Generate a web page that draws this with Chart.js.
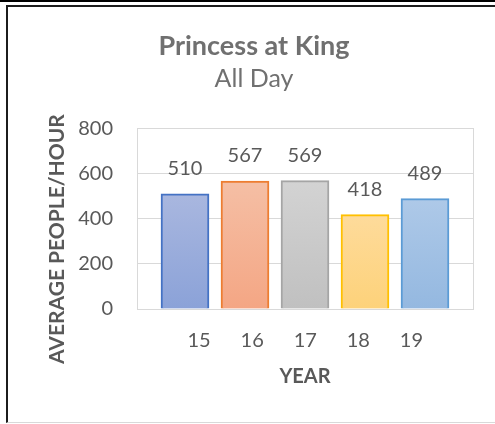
<!DOCTYPE html>
<html>
<head>
<meta charset="utf-8">
<script src="https://cdn.jsdelivr.net/npm/chart.js@4.4.1/dist/chart.umd.min.js"></script>
<style>
  html, body { margin: 0; padding: 0; background: #fff; }
  body { width: 495px; height: 424px; position: relative; overflow: hidden; }
  #topline { position: absolute; left: 0; top: 0; width: 495px; height: 2px; background: #000; }
  #frame { position: absolute; left: 6px; top: 5px; width: 489px; height: 418px; box-sizing: border-box;
           border-top: 2px solid #1c1c1c; border-left: 2px solid #1c1c1c; border-bottom: 1px solid #d9d9d9; }
  #chart { position: absolute; left: 0; top: 0; }
</style>
</head>
<body>
<div id="topline"></div>
<div id="frame"></div>
<canvas id="chart" width="495" height="424"></canvas>
<script>
// data
const years = [15, 16, 17, 18, 19];
const people = [510, 567, 569, 418, 489];
const yTicks = [0, 200, 400, 600, 800];

// office palette, with a light-to-dark fill per bar
const barBorders = ['#4472c4', '#ed7d31', '#a5a5a5', '#ffc000', '#5b9bd5'];
const barTops = ['#a9b7df', '#f5bfa5', '#d3d3d3', '#fedb9b', '#aec9e8'];
const barBottoms = ['#8ba2d8', '#f4a684', '#c0c0c0', '#fdd27a', '#94b8e0'];

const textGray = '#595959';
const titleGray = '#707070';
const gridGray = '#d9d9d9';

Chart.defaults.font.family = 'Lato';

function barFill(ctx) {
  const chart = ctx.chart;
  const i = ctx.dataIndex;
  if (!chart.chartArea || !chart.scales.y) return barBottoms[i];
  const y = chart.scales.y;
  const top = y.getPixelForValue(people[i]);
  const base = y.getPixelForValue(0);
  const g = chart.ctx.createLinearGradient(0, top, 0, base);
  g.addColorStop(0, barTops[i]);
  g.addColorStop(1, barBottoms[i]);
  return g;
}

// numbers over the bars
const valueLabels = {
  id: 'valueLabels',
  afterDatasetsDraw(chart) {
    const c = chart.ctx;
    const meta = chart.getDatasetMeta(0);
    c.save();
    c.font = '20px Lato';
    c.fillStyle = textGray;
    c.textAlign = 'center';
    c.textBaseline = 'middle';
    meta.data.forEach((bar, i) => {
      c.fillText(String(people[i]), bar.x, bar.y - 25);
    });
    c.restore();
  }
};

const ctx = document.getElementById('chart').getContext('2d');
new Chart(ctx, {
  type: 'bar',
  data: {
    datasets: [{
      xAxisID: 'x',
      yAxisID: 'y',
      data: years.map((yr, i) => ({ x: yr, y: people[i] })),
      backgroundColor: barFill,
      borderColor: barBorders,
      borderWidth: 2,
      borderSkipped: 'bottom',
      barThickness: 48
    }]
  },
  options: {
    responsive: false,
    animation: false,
    layout: { padding: { left: 13, top: 0, right: 0, bottom: 0 } },
    plugins: {
      legend: { display: false },
      tooltip: { enabled: false },
      title: {
        display: true,
        text: 'Princess at King',
        color: titleGray,
        font: { size: 27, weight: 'bold' },
        padding: { top: 30, bottom: 0 }
      },
      subtitle: {
        display: true,
        text: 'All Day',
        color: titleGray,
        font: { size: 25, weight: 'normal' },
        padding: { top: 2, bottom: 34 }
      }
    },
    scales: {
      x: { type: 'linear', display: false, offset: false, min: 14.2, max: 19.8 },
      xl: {
        type: 'linear',
        position: 'bottom',
        offset: false,
        min: 13.83,
        max: 20.16,
        afterBuildTicks: s => { s.ticks = years.map(v => ({ value: v })); },
        afterFit: s => { s.height = 115; },
        grid: { display: false, offset: false },
        border: { display: false },
        ticks: { color: textGray, font: { size: 20 }, padding: 12, autoSkip: false, maxRotation: 0, callback: v => String(v) },
        title: {
          display: true,
          text: 'YEAR',
          color: textGray,
          font: { size: 20, weight: 'bold' },
          padding: { top: 0, bottom: 35 }
        }
      },
      y: {
        min: 0,
        max: 800,
        afterBuildTicks: s => { s.ticks = yTicks.map(v => ({ value: v })); },
        afterFit: s => { s.width = 124; },
        grid: { color: gridGray, drawTicks: false },
        border: { color: gridGray },
        ticks: { color: textGray, font: { size: 20 }, padding: 24 },
        title: {
          display: true,
          text: 'AVERAGE PEOPLE/HOUR' + '\u00A0'.repeat(8),
          color: textGray,
          font: { size: 21, weight: 'bold' },
          padding: { top: 32, bottom: 0 }
        }
      },
      yr: {
        position: 'right',
        grid: { drawOnChartArea: false, drawTicks: false },
        border: { color: gridGray },
        ticks: { display: false },
        afterFit: s => { s.width = 22; }
      }
    }
  },
  plugins: [valueLabels]
});
</script>
</body>
</html>
